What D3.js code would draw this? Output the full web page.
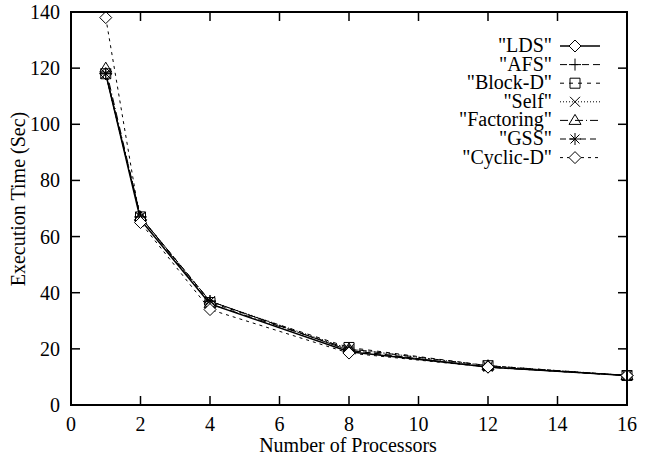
<!DOCTYPE html>
<html><head><meta charset="utf-8">
<script src="https://cdn.jsdelivr.net/npm/d3@7"></script>
<style>body{margin:0;background:#fff}svg{display:block}
svg text{font-family:"Liberation Serif","Times New Roman",Times,"DejaVu Serif",serif;font-size:20px}</style>
</head><body><svg id="c" width="648" height="459"></svg>
<script>
const processors = [1, 2, 4, 8, 12, 16];
const seriesNames = ["\"LDS\"", "\"AFS\"", "\"Block-D\"", "\"Self\"", "\"Factoring\"", "\"GSS\"", "\"Cyclic-D\""];
const ldsValues = [118, 66, 36, 19, 13.5, 10.5];
const afsValues = [118, 67, 37, 19.5, 13.5, 10.5];
const blockDValues = [118, 67, 36.5, 20.5, 14, 10.5];
const selfValues = [118, 67, 37, 20, 14, 10.5];
const factoringValues = [120, 67, 36, 20, 14, 10.5];
const gssValues = [118, 67, 37, 19.5, 13.5, 10.5];
const cyclicDValues = [138, 65, 34, 18.5, 13.5, 10.5];
const xTicks = [0, 2, 4, 6, 8, 10, 12, 14, 16];
const yTicks = [0, 20, 40, 60, 80, 100, 120, 140];

const allValues = [ldsValues, afsValues, blockDValues, selfValues, factoringValues, gssValues, cyclicDValues];
const markers = ["diamond", "plus", "square", "cross", "triangle", "star", "diamond"];
const dashes = [null, "7,4", "4,5", "1,2", "8,3,1,3", "6,4", "3,4"];

const svg = d3.select("#c");
const L = 71, R = 627, T = 12, B = 405;
const x = d3.scaleLinear().domain([0, 16]).range([L, R]);
const y = d3.scaleLinear().domain([0, 140]).range([B, T]);

// ticks (inward, mirrored)
const tk = 9;
const g = svg.append("g").attr("stroke", "#000").attr("stroke-width", 1.5);
xTicks.forEach(v => {
  g.append("line").attr("x1", x(v)).attr("x2", x(v)).attr("y1", B).attr("y2", B - tk);
  g.append("line").attr("x1", x(v)).attr("x2", x(v)).attr("y1", T).attr("y2", T + tk);
});
yTicks.forEach(v => {
  g.append("line").attr("x1", L).attr("x2", L + tk).attr("y1", y(v)).attr("y2", y(v));
  g.append("line").attr("x1", R).attr("x2", R - tk).attr("y1", y(v)).attr("y2", y(v));
});

// tick labels
svg.append("g").selectAll("text").data(xTicks).join("text")
  .attr("x", d => x(d)).attr("y", 431).attr("text-anchor", "middle").text(d => d);
svg.append("g").selectAll("text").data(yTicks).join("text")
  .attr("x", 60).attr("y", d => y(d) + 7).attr("text-anchor", "end").text(d => d);

svg.append("text").attr("x", 348).attr("y", 452).attr("text-anchor", "middle").text("Number of Processors");
svg.append("text").attr("transform", `translate(25,199) rotate(-90)`).attr("text-anchor", "middle").text("Execution Time (Sec)");

function drawMarker(sel, type, cx, cy) {
  const s = 6;
  const m = sel.append("g").attr("fill", "none").attr("stroke", "#000").attr("stroke-width", 1);
  if (type === "diamond") m.append("path").attr("d", `M${cx},${cy - s}L${cx + s},${cy}L${cx},${cy + s}L${cx - s},${cy}Z`).attr("fill", "#fff");
  else if (type === "plus") m.append("path").attr("d", `M${cx - s},${cy}H${cx + s}M${cx},${cy - s}V${cy + s}`);
  else if (type === "square") m.append("path").attr("d", `M${cx - 5},${cy - 5}H${cx + 5}V${cy + 5}H${cx - 5}Z`);
  else if (type === "cross") m.append("path").attr("d", `M${cx - 5},${cy - 5}L${cx + 5},${cy + 5}M${cx - 5},${cy + 5}L${cx + 5},${cy - 5}`);
  else if (type === "triangle") m.append("path").attr("d", `M${cx},${cy - 6}L${cx + 6},${cy + 4}L${cx - 6},${cy + 4}Z`);
  else if (type === "star") m.append("path").attr("d", `M${cx - s},${cy}H${cx + s}M${cx},${cy - s}V${cy + s}M${cx - 4.5},${cy - 4.5}L${cx + 4.5},${cy + 4.5}M${cx - 4.5},${cy + 4.5}L${cx + 4.5},${cy - 4.5}`);
}

const line = d3.line().x((d, i) => x(processors[i])).y(d => y(d));
const plot = svg.append("g");
allValues.forEach((vals, k) => {
  plot.append("path").datum(vals).attr("d", line).attr("fill", "none").attr("stroke", "#000")
    .attr("stroke-width", k === 0 ? 1.5 : 1).attr("stroke-dasharray", dashes[k]);
});
allValues.forEach((vals, k) => {
  vals.forEach((v, i) => drawMarker(plot, markers[k], x(processors[i]), y(v)));
});

// legend
const lg = svg.append("g");
seriesNames.forEach((n, k) => {
  const ly = 46 + k * 18.6;
  lg.append("text").attr("x", 552).attr("y", ly + 6).attr("text-anchor", "end").text(n);
  lg.append("line").attr("x1", 560).attr("x2", 600).attr("y1", ly).attr("y2", ly)
    .attr("stroke", "#000").attr("stroke-width", k === 0 ? 1.5 : 1).attr("stroke-dasharray", dashes[k]);
  drawMarker(lg, markers[k], 575, ly);
});

// frame
svg.append("rect").attr("x", L).attr("y", T).attr("width", R - L).attr("height", B - T)
  .attr("fill", "none").attr("stroke", "#000").attr("stroke-width", 2);
</script></body></html>
